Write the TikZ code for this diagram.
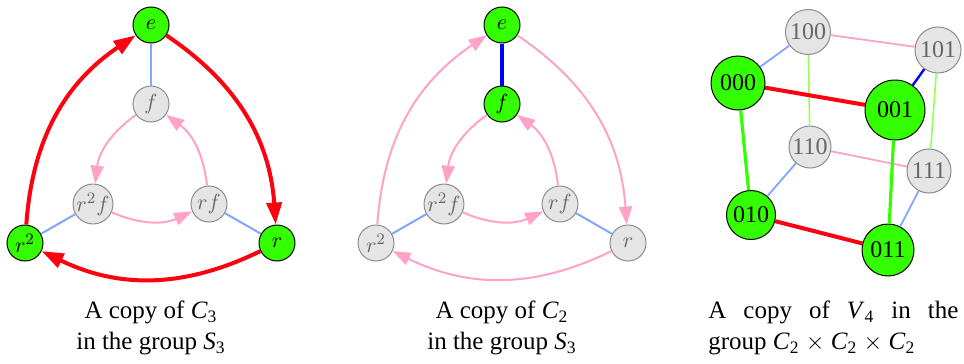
\documentclass[tikz,border=0pt]{standalone}
\usepackage[no-math]{fontspec}
\setmainfont{Liberation Serif}
\usepackage{xcolor}
\usetikzlibrary{arrows.meta}

\definecolor{eltgreen}{RGB}{51,255,0}
\definecolor{edgered}{RGB}{255,0,16}
\definecolor{edgepink}{RGB}{255,162,200}
\definecolor{edgeblue}{RGB}{130,165,255}
\definecolor{deepblue}{RGB}{0,0,255}
\definecolor{litegreen}{RGB}{150,255,90}

\begin{document}
\begin{tikzpicture}[
  x=0.5pt, y=-0.5pt,
  elt/.style={circle, draw=black, line width=0.5pt, fill=eltgreen, inner sep=0pt, minimum size=18pt, font=\fontsize{11}{13}\selectfont},
  offelt/.style={elt, draw=black!45, fill=black!10, text=black!60},
  cubelabel/.style={font=\fontsize{12}{14}\selectfont},
  caption/.style={font=\fontsize{12.5}{15.5}\selectfont, inner sep=0pt},
  redarc/.style={draw=edgered, line width=2pt, -{Triangle[length=11pt,width=7.5pt]}},
  pinkarc/.style={draw=edgepink, line width=1pt, -{Triangle[length=9pt,width=6.5pt]}},
  flipedge/.style={draw=edgeblue, line width=1pt},
  cubered/.style={draw=edgered, line width=2pt},
  cubepink/.style={draw=edgepink, line width=0.9pt},
  cubeblue/.style={draw=edgeblue, line width=0.9pt},
  cubegreen/.style={draw=eltgreen, line width=1.6pt},
  cubelite/.style={draw=litegreen, line width=0.8pt}
  ]
  \useasboundingbox (0,0) rectangle (964,364);

  % C3 in S3
  \node[elt] (e1) at (151,25) {$e$};
  \node[elt] (r1) at (277,243) {$r$};
  \node[elt] (rr1) at (25,243) {$r^2$};
  \node[offelt] (f1) at (151,104) {$f$};
  \node[offelt] (rf1) at (209,204) {$rf$};
  \node[offelt] (rrf1) at (93,204) {$r^2f$};
  \draw[flipedge] (e1) -- (f1);
  \draw[flipedge] (r1) -- (rf1);
  \draw[flipedge] (rr1) -- (rrf1);
  \draw[pinkarc] (f1) to[bend right=24] (rrf1);
  \draw[pinkarc] (rrf1) to[bend right=24] (rf1);
  \draw[pinkarc] (rf1) to[bend right=24] (f1);
  \draw[redarc] (e1) to[bend left=26] (r1);
  \draw[redarc] (r1) to[bend left=26] (rr1);
  \draw[redarc] (rr1) to[bend left=26] (e1);
  \node[caption, align=center] (capA) at (151,328) {A copy of \textit{C}\textsubscript{3}\\in the group \textit{S}\textsubscript{3}};

  % C2 in S3
  \node[elt] (e2) at (502,25) {$e$};
  \node[offelt] (r2) at (628,243) {$r$};
  \node[offelt] (rr2) at (376,243) {$r^2$};
  \node[elt] (f2) at (502,104) {$f$};
  \node[offelt] (rf2) at (560,204) {$rf$};
  \node[offelt] (rrf2) at (444,204) {$r^2f$};
  \draw[deepblue, line width=1.75pt] (e2) -- (f2);
  \draw[flipedge] (r2) -- (rf2);
  \draw[flipedge] (rr2) -- (rrf2);
  \draw[pinkarc] (f2) to[bend right=24] (rrf2);
  \draw[pinkarc] (rrf2) to[bend right=24] (rf2);
  \draw[pinkarc] (rf2) to[bend right=24] (f2);
  \draw[pinkarc] (e2) to[bend left=26] (r2);
  \draw[pinkarc] (r2) to[bend left=26] (rr2);
  \draw[pinkarc] (rr2) to[bend left=26] (e2);
  \node[caption, align=center] (capB) at (502,328) {A copy of \textit{C}\textsubscript{2}\\in the group \textit{S}\textsubscript{3}};

  % V4 in C2 x C2 x C2
  \node[offelt, cubelabel, minimum size=22.5pt] (n100) at (808,32) {100};
  \node[offelt, cubelabel, minimum size=23pt] (n101) at (938,50) {101};
  \node[offelt, cubelabel, minimum size=21pt] (n110) at (810,147) {110};
  \node[offelt, cubelabel, minimum size=22pt] (n111) at (929,171) {111};
  \node[elt, cubelabel, minimum size=27pt] (n000) at (738,83) {000};
  \node[elt, cubelabel, minimum size=30pt] (n001) at (895,110) {001};
  \node[elt, cubelabel, minimum size=24.5pt] (n010) at (751,215) {010};
  \node[elt, cubelabel, minimum size=26pt] (n011) at (888,250) {011};
  \draw[cubepink] (n100) -- (n101);
  \draw[cubepink] (n110) -- (n111);
  \draw[cubelite] (n100) -- (n110);
  \draw[cubelite] (n101) -- (n111);
  \draw[cubeblue] (n000) -- (n100);
  \draw[cubeblue] (n010) -- (n110);
  \draw[cubeblue] (n011) -- (n111);
  \draw[deepblue, line width=1.2pt] (n001) -- (n101);
  \draw[cubegreen] (n000) -- (n010);
  \draw[cubegreen] (n001) -- (n011);
  \draw[cubered] (n000) -- (n001);
  \draw[cubered] (n010) -- (n011);
  \node[caption, anchor=west, align=left] (capC) at (708,328) {\makebox[125pt][s]{A copy of \textit{V}\textsubscript{4} in the}\\group \textit{C}\textsubscript{2} $\times$ \textit{C}\textsubscript{2} $\times$ \textit{C}\textsubscript{2}};
\end{tikzpicture}
\end{document}
